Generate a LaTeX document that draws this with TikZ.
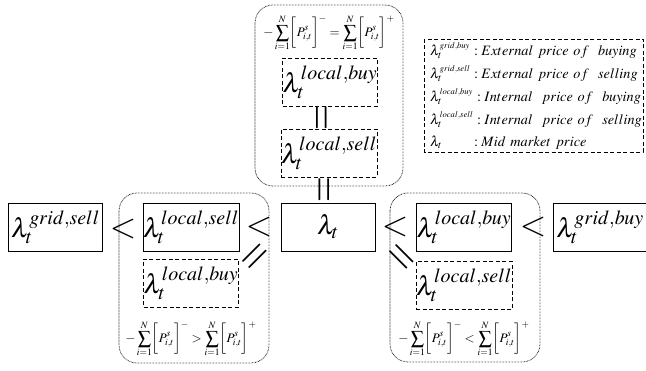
\documentclass[tikz,border=0pt]{standalone}
\usepackage{amsmath}
\usepackage{mathptmx}
\usetikzlibrary{calc}
% price symbols
\newcommand{\pricesym}[1]{$\lambda_t^{#1}$}
\newcommand{\legsym}[1]{$\lambda_t^{\scriptscriptstyle #1}$}
\newcommand{\balancesum}[1]{$-\displaystyle\sum_{i=1}^{N}\biggl[P_{i,t}^{s}\biggr]^{-}#1\sum_{i=1}^{N}\biggl[P_{i,t}^{s}\biggr]^{+}$}
\begin{document}
\begin{tikzpicture}[x=1pt,y=-1pt,
  price/.style={minimum width=94pt,minimum height=48pt,inner sep=0pt,
    font=\fontsize{27}{30}\selectfont,line width=0.9pt},
  solidbox/.style={price,draw},
  dashbox/.style={price,draw,dash pattern=on 4pt off 2.5pt},
  cluster/.style={draw,rounded corners=18pt,line width=0.7pt,
    dash pattern=on 0.7pt off 0.8pt},
  rel/.style={font=\fontsize{34}{34}\selectfont,inner sep=0pt,
    text height=14pt,text depth=0pt},
  eqsign/.style={font=\fontsize{30}{30}\selectfont,inner sep=0pt,
    text height=6pt,text depth=0pt},
  balance/.style={font=\fontsize{13}{15}\selectfont,inner sep=0pt},
  legrow/.style={anchor=west,inner sep=0pt,text height=9pt,text depth=2pt,
    font=\fontsize{14.3}{16}\selectfont}]
\useasboundingbox (0,0) rectangle (646,371);

% market-state groups
\draw[cluster] (255,5) rectangle (403,186);
\draw[cluster] (119,193) rectangle (269,363);
\draw[cluster] (390,193) rectangle (540,362);

% top group: balanced market
\node[balance] (fT) at (329,33) {\balancesum{=}};
\node[dashbox] (lbT) at (330,82) {\pricesym{local,buy}};
\node[dashbox] (lsT) at (329,153) {\pricesym{local,sell}};
\node[eqsign,rotate=90] (eqT) at ($(lbT.south)!0.5!(lsT.north)$)
  {\scalebox{1.1}[1.5]{$=$}};

% centre price
\node[solidbox] (mid) at (328,227) {$\lambda_t$};
\node[eqsign,rotate=90] (eqM) at (332,190) {\scalebox{1.1}[1.5]{$=$}};

% left group: surplus
\node[solidbox] (gs) at (55.5,227) {\pricesym{grid,sell}};
\node[solidbox] (lsL) at (191,227) {\pricesym{local,sell}};
\node[dashbox] (lbL) at (191,283) {\pricesym{local,buy}};
\node[balance] (fL) at (191,339) {\balancesum{>}};
\node[rel] (ltA) at (123,231) {$<$};
\node[rel] (ltB) at (259,229) {$<$};
\node[eqsign,rotate=45] (eqL) at (261,262) {\scalebox{1.25}[1.5]{$=$}};

% right group: deficit
\node[solidbox] (lbR) at (464,227) {\pricesym{local,buy}};
\node[dashbox] (lsR) at (464,285.5) {\pricesym{local,sell}};
\node[solidbox] (gb) at (600,227) {\pricesym{grid,buy}};
\node[balance] (fR) at (464,339) {\balancesum{<}};
\node[rel] (ltC) at (395,229) {$<$};
\node[rel] (ltD) at (533,229) {$<$};
\node[eqsign,rotate=-45] (eqR) at (396,263) {\scalebox{1.25}[1.5]{$=$}};

% legend
\draw[line width=0.9pt,dash pattern=on 4pt off 2.5pt] (424,39) rectangle (643,152);
\node[legrow] (l1) at (430,52)
  {\makebox[44pt][l]{\legsym{grid,buy}}$:External\ price\ of\ \ buying$};
\node[legrow] (l2) at (430,75)
  {\makebox[44pt][l]{\legsym{grid,sell}}$:External\ price\ of\ \ selling$};
\node[legrow] (l3) at (430,98)
  {\makebox[47pt][l]{\legsym{local,buy}}$:Internal\ \ price\ of\ \ buying$};
\node[legrow] (l4) at (430,121)
  {\makebox[47pt][l]{\legsym{local,sell}}$:Internal\ \ price\ of\ \ selling$};
\node[legrow] (l5) at (430,143)
  {\makebox[44pt][l]{$\lambda_t$}$:Mid\ market\ price$};
\end{tikzpicture}
\end{document}
